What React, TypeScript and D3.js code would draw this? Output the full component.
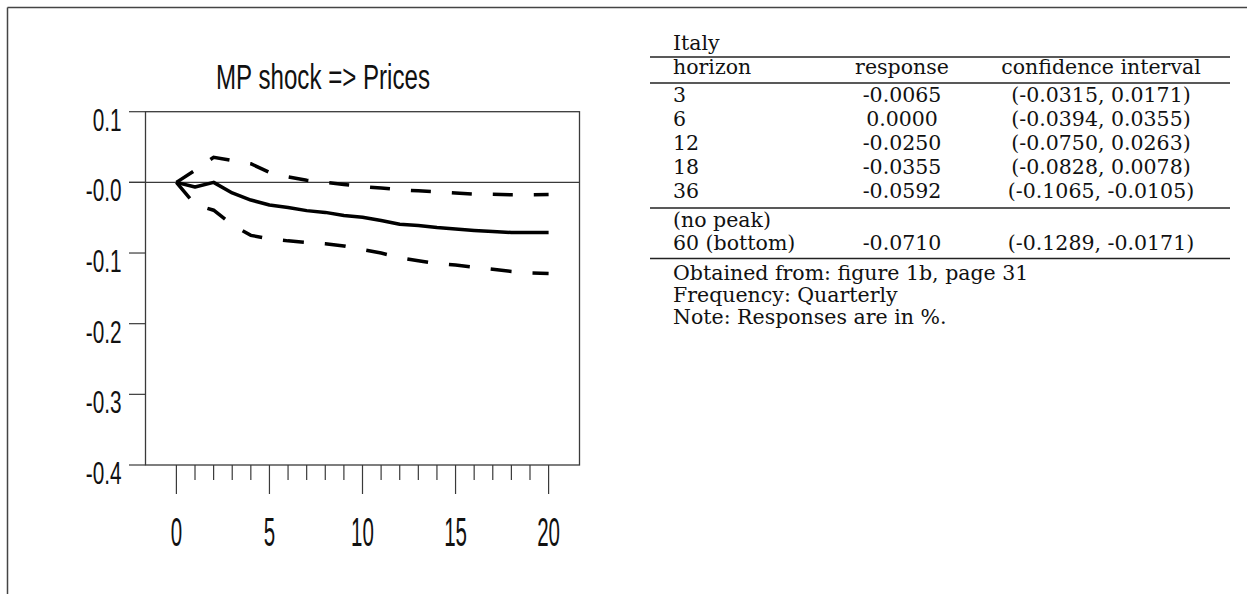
import React, { useEffect } from 'react';
import * as d3 from 'd3';

// ---- chart data ----
const steps = [0, 1, 2, 3, 4, 5, 6, 7, 8, 9, 10, 11, 12, 13, 14, 15, 16, 17, 18, 19, 20];
const response = [0, -0.0065, 0.0, -0.015, -0.025, -0.032, -0.0355, -0.04, -0.0425, -0.047, -0.0495, -0.054, -0.0592, -0.061, -0.064, -0.066, -0.068, -0.0695, -0.071, -0.071, -0.071];
const upperBand = [0, 0.0171, 0.0355, 0.031, 0.0263, 0.014, 0.0078, 0.003, 0.0, -0.003, -0.006, -0.008, -0.0105, -0.012, -0.0135, -0.015, -0.0165, -0.017, -0.0175, -0.0175, -0.0171];
const lowerBand = [0, -0.0315, -0.0394, -0.06, -0.075, -0.08, -0.0828, -0.085, -0.087, -0.09, -0.095, -0.1, -0.1065, -0.111, -0.115, -0.117, -0.12, -0.123, -0.126, -0.128, -0.1289];
const yTicks = [0.1, 0, -0.1, -0.2, -0.3, -0.4];
const yTickLabels = ['0.1', '-0.0', '-0.1', '-0.2', '-0.3', '-0.4'];
const xMajorTicks = [0, 5, 10, 15, 20];
const xTickLabels = ['0', '5', '10', '15', '20'];
const chartTitle = 'MP shock => Prices';

// ---- table data ----
const tableCountry = 'Italy';
const tableHeaders = ['horizon', 'response', 'confidence interval'];
const horizons = ['3', '6', '12', '18', '36'];
const responses = ['-0.0065', '0.0000', '-0.0250', '-0.0355', '-0.0592'];
const intervals = ['(-0.0315, 0.0171)', '(-0.0394, 0.0355)', '(-0.0750, 0.0263)', '(-0.0828, 0.0078)', '(-0.1065, -0.0105)'];
const peakLabel = '(no peak)';
const bottomRow = ['60 (bottom)', '-0.0710', '(-0.1289, -0.0171)'];
const notes = ['Obtained from: figure 1b, page 31', 'Frequency: Quarterly', 'Note: Responses are in %.'];

export default function App() {
  useEffect(() => {
    document.body.style.margin = '0';
    document.body.style.overflow = 'hidden';
  }, []);

  const W = 1247;
  const H = 594;
  const left = 145.5, right = 579.5, top = 111.7, bottom = 465;
  const x = d3.scaleLinear().domain([-1.66, 21.66]).range([left, right]);
  const y = d3.scaleLinear().domain([-0.4, 0.1]).range([bottom, top]);
  const mk = (vals: number[]) =>
    d3.line<number>().x((_, i) => x(steps[i])).y((d) => y(d)).curve(d3.curveLinear)(vals) || '';

  const sans = 'Liberation Sans, Arial, sans-serif';
  const serif = 'DejaVu Serif, serif';
  const tcol = '#111';
  const axisCol = '#3a3a3a';

  // table layout
  const tLeft = 650, tRight = 1230, c1 = 673, c2 = 902, c3 = 1101, fs = 20.5;
  const rowBase = [101.5, 125.7, 149.9, 174.1, 198.3];

  return (
    <svg width={W} height={H} style={{ position: 'absolute', left: 0, top: 0, background: '#fff' }}>
      <rect x={0} y={0} width={W} height={H} fill="#fff" />
      {/* outer frame */}
      <line x1={7.5} y1={7.5} x2={W} y2={7.5} stroke="#444" strokeWidth={1.5} />
      <line x1={7.5} y1={7.5} x2={7.5} y2={H} stroke="#444" strokeWidth={1.5} />

      {/* title */}
      <text transform={`translate(323,89) scale(0.67,1)`} textAnchor="middle" fontFamily={sans} fontSize={36} fill={tcol}>
        {chartTitle}
      </text>

      {/* plot box */}
      <rect x={left} y={top} width={right - left} height={bottom - top} fill="none" stroke={axisCol} strokeWidth={1.3} />
      {/* zero line */}
      <line x1={129} x2={right} y1={y(0)} y2={y(0)} stroke={axisCol} strokeWidth={1.2} />

      {/* y ticks */}
      {yTicks.map((v, i) => (
        <g key={'yt' + i}>
          <line x1={129} x2={left} y1={y(v)} y2={y(v)} stroke={axisCol} strokeWidth={1.2} />
          <text transform={`translate(121.5,${y(v) + 19}) scale(0.67,1)`} textAnchor="end" fontFamily={sans} fontSize={31} fill={tcol}>
            {yTickLabels[i]}
          </text>
        </g>
      ))}

      {/* x ticks */}
      {steps.map((t) => {
        const major = xMajorTicks.includes(t);
        return (
          <line key={'xt' + t} x1={x(t)} x2={x(t)} y1={bottom} y2={bottom + (major ? 29 : 15)} stroke={axisCol} strokeWidth={1.2} />
        );
      })}
      {xMajorTicks.map((t, i) => (
        <text key={'xl' + t} transform={`translate(${x(t)},546) scale(0.5,1)`} textAnchor="middle" fontFamily={sans} fontSize={41} fill={tcol}>
          {xTickLabels[i]}
        </text>
      ))}

      {/* series */}
      <path d={mk(upperBand)} fill="none" stroke="#000" strokeWidth={3.5} strokeDasharray="20 21" />
      <path d={mk(lowerBand)} fill="none" stroke="#000" strokeWidth={3.5} strokeDasharray="21 21" />
      <path d={mk(response)} fill="none" stroke="#000" strokeWidth={3.5} strokeLinejoin="round" />

      {/* table */}
      <g fontFamily={serif} fontSize={fs} fill={tcol}>
        <text x={c1} y={50}>{tableCountry}</text>
        <line x1={tLeft} x2={tRight} y1={57} y2={57} stroke="#222" strokeWidth={1.6} />
        <text x={c1} y={74}>{tableHeaders[0]}</text>
        <text x={c2} y={74} textAnchor="middle">{tableHeaders[1]}</text>
        <text x={c3} y={74} textAnchor="middle">{tableHeaders[2]}</text>
        <line x1={tLeft} x2={tRight} y1={83} y2={83} stroke="#222" strokeWidth={1.6} />
        {horizons.map((h, i) => (
          <g key={'r' + i}>
            <text x={c1} y={rowBase[i]}>{h}</text>
            <text x={c2} y={rowBase[i]} textAnchor="middle">{responses[i]}</text>
            <text x={c3} y={rowBase[i]} textAnchor="middle">{intervals[i]}</text>
          </g>
        ))}
        <line x1={tLeft} x2={tRight} y1={208} y2={208} stroke="#222" strokeWidth={1.6} />
        <text x={c1} y={226.5}>{peakLabel}</text>
        <text x={c1} y={250}>{bottomRow[0]}</text>
        <text x={c2} y={250} textAnchor="middle">{bottomRow[1]}</text>
        <text x={c3} y={250} textAnchor="middle">{bottomRow[2]}</text>
        <line x1={tLeft} x2={tRight} y1={258.5} y2={258.5} stroke="#222" strokeWidth={1.6} />
        {notes.map((n, i) => (
          <text key={'n' + i} x={c1} y={279.5 + i * 22}>{n}</text>
        ))}
      </g>
    </svg>
  );
}
